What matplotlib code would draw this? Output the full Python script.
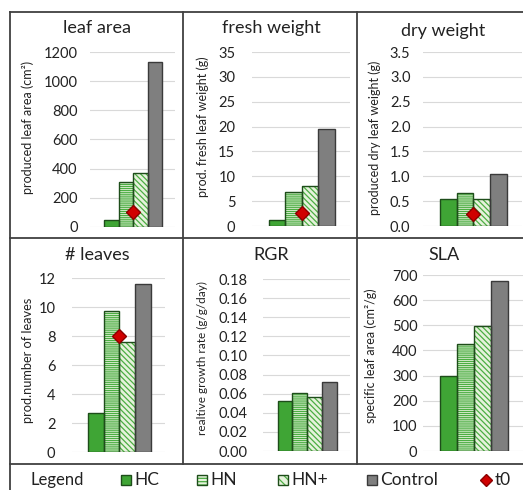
import numpy as np
import matplotlib.pyplot as plt
from matplotlib.patches import Rectangle
from matplotlib.lines import Line2D

plt.rcParams['font.family'] = ['Lato', 'DejaVu Sans']
plt.rcParams['hatch.linewidth'] = 0.9

W, H = 523, 490

groups = ['HC', 'HN', 'HN+', 'Control']
titles = ['leaf area', 'fresh weight', 'dry weight', '# leaves', 'RGR', 'SLA']
ylabels = ['produced leaf area (cm²)', 'prod. fresh leaf weight (g)',
           'produced dry leaf weight (g)', 'prod.number of leaves',
           'realtive growth rate (g/g/day)', 'specific leaf area (cm²/g)']

leaf_area = [50, 310, 370, 1130]
fresh_weight = [1.2, 6.8, 8.0, 19.5]
dry_weight = [0.55, 0.67, 0.55, 1.05]
n_leaves = [2.7, 9.7, 7.6, 11.6]
rgr = [0.052, 0.061, 0.056, 0.072]
sla = [298, 425, 497, 676]

t0_values = [100, 2.6, 0.25, 8.0, None, None]

yticks = [np.arange(0, 1201, 200), np.arange(0, 36, 5), np.arange(0, 3.6, 0.5),
          np.arange(0, 13, 2), np.arange(0, 0.181, 0.02), np.arange(0, 701, 100)]
tickfmt = ['%d', '%d', '%.1f', '%d', '%.2f', '%d']

# pixel boxes: left, right, bottom, top
boxes = [(90, 175, 227, 52), (252, 350, 226, 52), (423, 522, 226, 52),
         (72, 165, 452, 278), (263, 350, 451, 279), (423, 523, 451, 275)]
pads = [9, 12, 9, 12, 11, 4]
title_pos = [(97, 28), (271, 28), (443, 31), (97, 255), (271, 255), (444, 255)]
ylab_pos = [(28, 127), (203, 127), (375, 138), (28, 360), (202, 358), (371, 356)]
ylab_size = [9, 9, 9, 9.2, 8.5, 9]

green = '#3fa535'
light = '#e6f2dc'
hgreen = '#4cae43'
gray = '#7f7f7f'

fig = plt.figure(figsize=(W / 100, H / 100), dpi=100)

data = [leaf_area, fresh_weight, dry_weight, n_leaves, rgr, sla]
x = np.arange(4)
for i, vals in enumerate(data):
    l, r, b, t = boxes[i]
    ax = fig.add_axes([l / W, (H - b) / H, (r - l) / W, (b - t) / H])
    faces = [green, light, light, gray]
    hatches = ['', '--------', '\\\\\\\\\\\\', '']
    for j in range(4):
        ax.bar(x[j], vals[j], width=1, color=faces[j], hatch=hatches[j],
               edgecolor=hgreen if hatches[j] else faces[j], linewidth=0, zorder=2)
        ax.bar(x[j], vals[j], width=1, fill=False,
               edgecolor='#3a3a3a' if j == 3 else '#1e4d1a', linewidth=1.0, zorder=3)
    if t0_values[i] is not None:
        ax.plot(1.5, t0_values[i], marker='D', color='#d00000', markeredgecolor='#8b0000',
                markersize=7.5, zorder=4)
    ax.set_xlim(-1.5, 4.4)
    ax.set_ylim(0, yticks[i][-1])
    ax.set_yticks(yticks[i])
    ax.set_yticklabels([tickfmt[i] % v for v in yticks[i]], fontsize=10.5, color='#222222')
    ax.tick_params(axis='y', length=0, pad=pads[i])
    ax.set_xticks([])
    ax.grid(axis='y', color='#d9d9d9', linewidth=0.8, zorder=0)
    ax.set_axisbelow(True)
    for s in ax.spines.values():
        s.set_visible(False)
    ax.patch.set_alpha(0)
    tx, ty = title_pos[i]
    fig.text(tx / W, (H - ty) / H, titles[i], ha='center', va='center', fontsize=13,
             color='#222222')
    lx, ly = ylab_pos[i]
    fig.text(lx / W, (H - ly) / H, ylabels[i], ha='center', va='center', rotation=90,
             fontsize=ylab_size[i], color='#222222')

# frame lines
lc = '#404040'
def hline(y, x0=10, x1=523):
    fig.add_artist(Line2D([x0 / W, x1 / W], [(H - y) / H] * 2, color=lc, linewidth=1.3))
def vline(xp, y0, y1):
    fig.add_artist(Line2D([xp / W] * 2, [(H - y0) / H, (H - y1) / H], color=lc, linewidth=1.3))

hline(12)
hline(238)
hline(464)
vline(10, 12, 490)
vline(183, 12, 464)
vline(357, 12, 464)

# legend row
ly = 480
fig.text(30 / W, (H - ly) / H, 'Legend', ha='left', va='center', fontsize=12, color='#222222')
legend_items = [(121, 'HC', green, '', '#1e4d1a'), (197, 'HN', light, '-----', '#1e4d1a'),
                (278, 'HN+', light, '\\\\\\\\', '#1e4d1a'), (367, 'Control', gray, '', '#3a3a3a')]
sq = 10
for xp, lab, fc, hat, ec in legend_items:
    fig.add_artist(Rectangle((xp / W, (H - ly - sq / 2) / H), sq / W, sq / H,
                             facecolor=fc, hatch=hat, edgecolor=hgreen if hat else fc, linewidth=0))
    fig.add_artist(Rectangle((xp / W, (H - ly - sq / 2) / H), sq / W, sq / H,
                             fill=False, edgecolor=ec, linewidth=1.0))
    fig.text((xp + sq + 3) / W, (H - ly) / H, lab, ha='left', va='center', fontsize=12.5,
             color='#222222')
fig.add_artist(Line2D([486 / W], [(H - ly) / H], marker='D', color='#d00000',
                      markeredgecolor='#8b0000', markersize=6))
fig.text(495 / W, (H - ly) / H, 't0', ha='left', va='center', fontsize=12.5, color='#222222')

fig.savefig('out.png', dpi=100)
